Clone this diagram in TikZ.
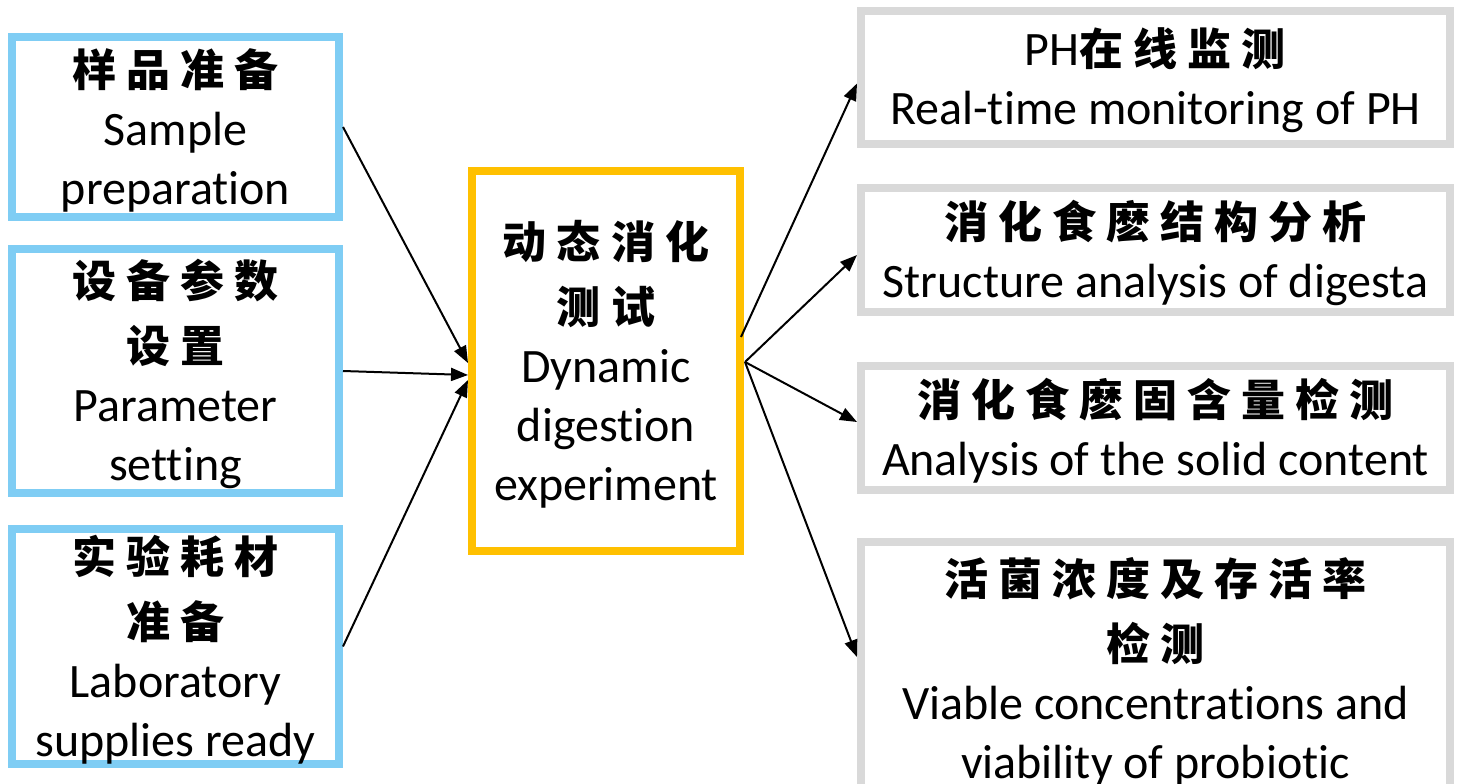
\documentclass[tikz,border=0pt]{standalone}
\usepackage{fontspec}
\setmainfont{Carlito}[Ligatures=CommonOff]
\newfontfamily\cjk{Noto Sans CJK SC}[LetterSpace=23]
\usetikzlibrary{arrows.meta,positioning,calc}

\definecolor{prepblue}{HTML}{7FCDF4}
\definecolor{testgold}{HTML}{FFC000}
\definecolor{resgray}{HTML}{D9D9D9}
\newcommand{\zh}[1]{{\cjk\bfseries\fontsize{44}{59}\selectfont #1}}
\newcommand{\boxtop}{\rule{0pt}{44pt}}

\begin{document}
\begin{tikzpicture}[x=1pt, y=-1pt, node distance=244pt,
  box/.style={align=center, inner sep=0pt, line width=8pt, fill=white,
    font=\fontsize{48}{59}\selectfont},
  prep/.style={box, draw=prepblue, minimum width=327pt},
  test/.style={box, draw=testgold, minimum width=268pt, minimum height=380pt},
  result/.style={box, draw=resgray, minimum width=589pt},
  arr/.style={-{Triangle[length=17pt,width=13pt]}, line width=2pt, black}]
\useasboundingbox (0,0) rectangle (1460,784);

% preparation
\node[prep, minimum height=180pt] (s1) at (175.5,127) {\boxtop\zh{样品准备}\\Sample\\preparation};
\node[prep, minimum height=244pt] (s2) [below of=s1] {\boxtop\zh{设备参数}\\[6pt]\zh{设置}\\Parameter\\setting};
\node[prep, minimum height=235pt, node distance=275.5pt] (s3) [below of=s2] {\boxtop\zh{实验耗材}\\[6pt]\zh{准备}\\Laboratory\\supplies ready};

% digestion
\node[test] (dyn) at (606,361) {\boxtop\zh{动态消化}\\[6pt]\zh{测试}\\Dynamic\\digestion\\experiment};

% analyses
\node[result, minimum height=133pt] (r1) at (1155.5,77.5) {\boxtop PH\zh{在线监测}\\Real-time monitoring of PH};
\node[result, minimum height=124pt, node distance=172.5pt] (r2) [below of=r1] {\boxtop\zh{消化食麽结构分析}\\Structure analysis of digesta};
\node[result, minimum height=124pt, node distance=178pt] (r3) [below of=r2] {\boxtop\zh{消化食麽固含量检测}\\Analysis of the solid content};
\node[result, minimum height=254pt, node distance=241pt] (r4) [below of=r3] {\boxtop\zh{活菌浓度及存活率}\\[6pt]\zh{检测}\\Viable concentrations and\\viability of probiotic};

\coordinate (in1) at ($(dyn.west)+(0,2)$);
\coordinate (in2) at ($(dyn.west)+(0,14)$);
\coordinate (in3) at ($(dyn.west)+(0,19)$);
\coordinate (out1) at ($(dyn.east)+(-3,-24)$);
\coordinate (out2) at ($(dyn.east)+(1,1)$);

\path[arr]
(s1.east) edge (in1)
(s2.east) edge (in2)
(s3.east) edge (in3);
\path[arr]
(out1) edge ($(r1.west)+(0,6)$)
(out2) edge ($(r2.west)+(0,5)$)
       edge ($(r3.west)+(0,-6)$)
       edge ($(r4.west)+(0,-12)$);
\end{tikzpicture}
\end{document}
